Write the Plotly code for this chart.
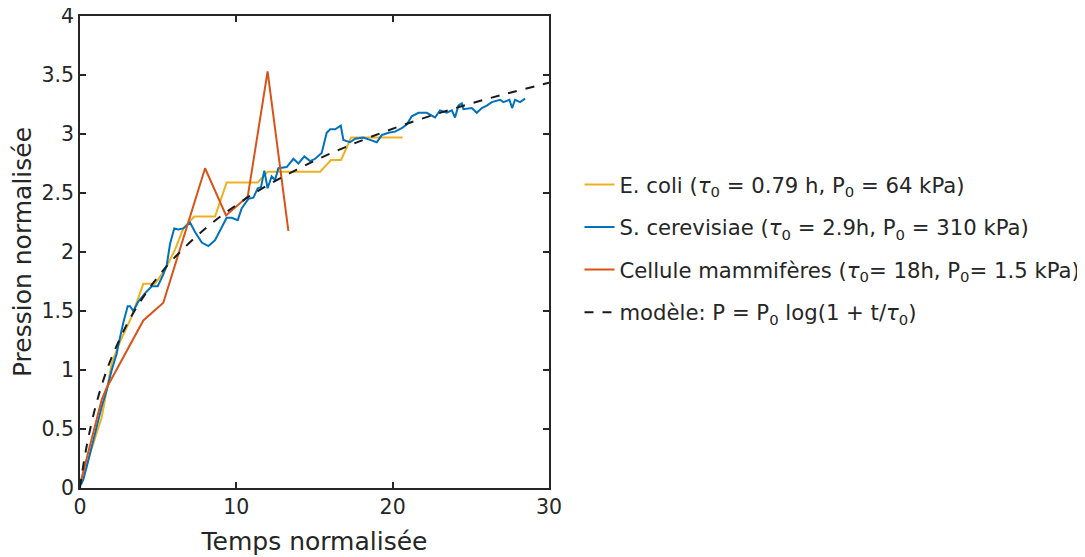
import plotly.graph_objects as go

# E. coli
ecoli_t = [0.06, 0.64, 1.39, 2.03, 2.56, 3.3, 4.05, 4.8, 5.44, 6.08, 6.61, 7.31, 8.64, 9.38,
           11.37, 12.0, 15.36, 16.06, 16.7, 17.34, 20.64]
ecoli_p = [0.03, 0.29, 0.60, 1.06, 1.24, 1.45, 1.73, 1.73, 1.85, 2.02, 2.20, 2.30, 2.30, 2.59,
           2.59, 2.68, 2.68, 2.78, 2.78, 2.97, 2.97]

# S. cerevisiae
yeast_t = [0.06, 0.21, 0.43, 0.64, 0.96, 1.39, 1.71, 2.03, 2.35, 2.45, 2.77, 3.05, 3.2, 3.41,
           3.73, 4.16, 4.59, 4.97, 5.33, 5.55, 5.76, 6.03, 6.29, 6.61, 7.04, 7.36, 7.79, 8.21,
           8.64, 9.07, 9.38, 9.7, 10.09, 10.34, 10.77, 11.09, 11.37, 11.58, 11.79, 12.0, 12.26,
           12.48, 12.69, 13.22, 13.65, 13.97, 14.35, 14.72, 15.04, 15.46, 15.78, 16.0, 16.32,
           16.68, 16.85, 17.06, 17.28, 17.6, 18.13, 18.55, 18.98, 19.3, 19.73, 20.15, 20.58,
           20.9, 21.22, 21.65, 22.18, 22.71, 23.03, 23.46, 23.78, 23.99, 24.2, 24.42, 24.52,
           25.06, 25.38, 25.7, 26.02, 26.34, 26.87, 27.08, 27.47, 27.64, 27.83, 28.15, 28.47]
yeast_p = [0.03, 0.07, 0.18, 0.29, 0.46, 0.69, 0.83, 1.00, 1.14, 1.21, 1.40, 1.54, 1.54, 1.50,
           1.58, 1.65, 1.71, 1.71, 1.81, 1.89, 2.07, 2.20, 2.19, 2.20, 2.25, 2.17, 2.08, 2.05,
           2.10, 2.21, 2.29, 2.29, 2.27, 2.37, 2.45, 2.46, 2.54, 2.55, 2.69, 2.54, 2.64,
           2.61, 2.71, 2.72, 2.79, 2.75, 2.81, 2.77, 2.79, 2.84, 3.01, 3.04, 3.04,
           3.07, 2.95, 2.94, 2.93, 2.96, 2.97, 2.95, 2.93, 2.99, 3.01, 3.02, 3.05,
           3.08, 3.15, 3.18, 3.18, 3.14, 3.20, 3.18, 3.20, 3.14, 3.24, 3.26, 3.21,
           3.22, 3.18, 3.22, 3.24, 3.27, 3.29, 3.27, 3.29, 3.22, 3.29, 3.27, 3.30]

# Cellule mammifères
mamm_t = [0.0, 1.39, 1.71, 4.05, 5.33, 8.0, 9.34, 10.73, 12.0, 13.33]
mamm_p = [0.03, 0.75, 0.85, 1.42, 1.57, 2.71, 2.31, 2.47, 3.53, 2.18]

# modèle: P = log(1 + t)
model_t = [0, 0.1, 0.25, 0.5, 1, 1.5, 2, 3, 4, 5, 6, 8, 10, 12, 15, 18, 21, 24, 27, 30]
model_p = [0.0, 0.095, 0.223, 0.405, 0.693, 0.916, 1.099, 1.386, 1.609, 1.792, 1.946, 2.197,
           2.398, 2.565, 2.773, 2.944, 3.091, 3.219, 3.332, 3.434]

x_ticks = [0, 10, 20, 30]
y_ticks = [0, 0.5, 1, 1.5, 2, 2.5, 3, 3.5, 4]
y_labels = ["0", "0.5", "1", "1.5", "2", "2.5", "3", "3.5", "4"]

names = [
    "E. coli (<i>τ</i><sub>0</sub> = 0.79 h, P<sub>0</sub> = 64 kPa)",
    "S. cerevisiae (<i>τ</i><sub>0</sub> = 2.9h, P<sub>0</sub> = 310 kPa)",
    "Cellule mammifères (<i>τ</i><sub>0</sub>= 18h, P<sub>0</sub>= 1.5 kPa)",
    "modèle: P = P<sub>0</sub> log(1 + t/<i>τ</i><sub>0</sub>)",
]

FONT = "DejaVu Sans"
TXT = "#262626"
TICK_FS = 20.5
TITLE_FS = 25
LEG_FS = 21.2

fig = go.Figure()
fig.add_trace(go.Scatter(x=ecoli_t, y=ecoli_p, mode="lines", name=names[0], legendgroup="a",
                         line=dict(color="#EDB120", width=2)))
fig.add_trace(go.Scatter(x=yeast_t, y=yeast_p, mode="lines", name=names[1], legendgroup="b",
                         line=dict(color="#0072BD", width=2)))
fig.add_trace(go.Scatter(x=mamm_t, y=mamm_p, mode="lines", name=names[2], legendgroup="c",
                         line=dict(color="#D95319", width=2)))
fig.add_trace(go.Scatter(x=model_t, y=model_p, mode="lines", name=names[3], legendgroup="d",
                         line=dict(color="#1a1a1a", width=2, dash="dash", shape="spline")))

axis_common = dict(showline=True, linecolor=TXT, linewidth=1.5, mirror="ticks",
                   ticks="inside", ticklen=6, tickwidth=1.5, tickcolor=TXT,
                   showgrid=False, zeroline=False, automargin=False,
                   ticklabeloverflow="allow",
                   tickfont=dict(family=FONT, size=TICK_FS, color=TXT))

fig.update_xaxes(range=[0, 30], tickvals=x_ticks, ticktext=[str(v) for v in x_ticks],
                 title=dict(text="Temps normalisée", font=dict(family=FONT, size=TITLE_FS, color=TXT),
                            standoff=14),
                 **axis_common)
fig.update_yaxes(range=[0, 4], tickvals=y_ticks, ticktext=y_labels,
                 title=dict(text="Pression normalisée", font=dict(family=FONT, size=TITLE_FS, color=TXT),
                            standoff=6),
                 **axis_common)

fig.update_layout(
    width=1077, height=549,
    margin=dict(l=72, r=536, t=8, b=69, autoexpand=False),
    paper_bgcolor="white", plot_bgcolor="white",
    font=dict(family=FONT, size=LEG_FS, color=TXT),
    showlegend=True,
    legend=dict(x=1.065, y=0.686, xanchor="left", yanchor="top",
                font=dict(family=FONT, size=LEG_FS, color=TXT),
                itemwidth=30, tracegroupgap=12, bgcolor="rgba(0,0,0,0)"),
)

fig.write_html("out.html")
